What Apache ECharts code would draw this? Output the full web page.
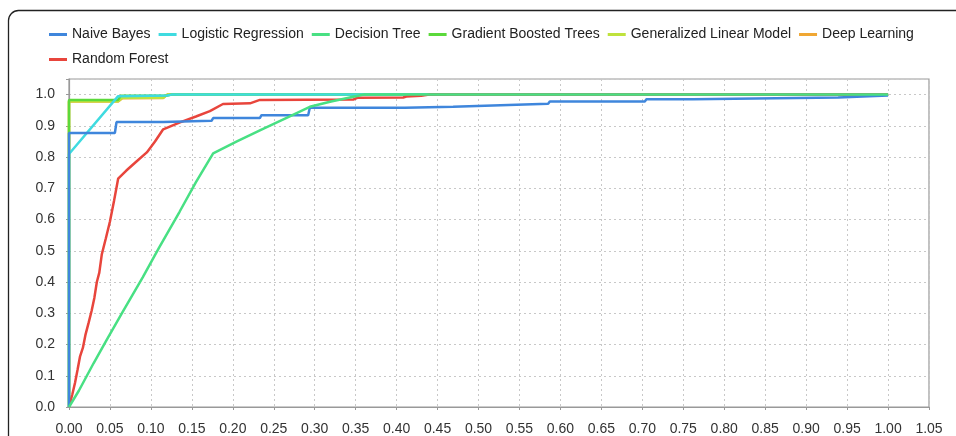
<!DOCTYPE html>
<html>
<head>
<meta charset="utf-8">
<script src="https://cdn.jsdelivr.net/npm/echarts@6/dist/echarts.min.js"></script>
<style>
html,body{margin:0;padding:0;background:#fff;}
#chart{width:956px;height:436px;}
</style>
</head>
<body>
<div id="chart"></div>
<script>
// ---- data (false positive rate, true positive rate) ----
const seriesNames = ['Naive Bayes','Logistic Regression','Decision Tree','Gradient Boosted Trees','Generalized Linear Model','Deep Learning','Random Forest'];
const seriesColors = ['#3f86dc','#3fdbe0','#48e083','#5bd93b','#bfe23c','#f0a733','#e8453c'];

const naiveBayes = [[0,0],[0,0.877],[0.056,0.877],[0.058,0.912],[0.115,0.912],[0.117,0.916],[0.174,0.916],[0.176,0.925],[0.233,0.925],[0.235,0.934],[0.292,0.934],[0.294,0.958],[0.41,0.958],[0.412,0.961],[0.469,0.961],[0.471,0.966],[0.527,0.966],[0.529,0.971],[0.585,0.971],[0.587,0.978],[0.703,0.978],[0.705,0.985],[0.762,0.985],[0.764,0.991],[0.939,0.991],[0.941,0.997],[1,0.997]];
const logisticRegression = [[0,0],[0,0.81],[0.06,0.995],[0.12,0.997],[0.125,1],[1,1]];
const decisionTree = [[0,0],[0.012,0.052],[0.03,0.14],[0.045,0.21],[0.065,0.302],[0.09,0.415],[0.11,0.51],[0.135,0.625],[0.155,0.72],[0.176,0.812],[0.205,0.85],[0.235,0.888],[0.265,0.925],[0.294,0.961],[0.32,0.978],[0.35,0.995],[0.36,1],[1,1]];
const gradientBoosted = [[0,0],[0,0.983],[0.06,0.983],[0.063,0.996],[0.12,0.997],[0.125,1],[1,1]];
const generalizedLinear = [[0,0],[0,0.979],[0.06,0.979],[0.065,0.99],[0.115,0.99],[0.12,1],[1,1]];
const deepLearning = [[0,0],[0,0.978],[0.06,0.978],[0.065,0.988],[0.115,0.989],[0.12,1],[1,1]];
const randomForest = [[0,0],[0.004,0.04],[0.0073,0.077],[0.0105,0.12],[0.0134,0.161],[0.017,0.19],[0.02,0.23],[0.024,0.27],[0.0277,0.309],[0.031,0.35],[0.034,0.40],[0.037,0.43],[0.040,0.488],[0.045,0.54],[0.050,0.594],[0.055,0.66],[0.060,0.731],[0.070,0.757],[0.082,0.785],[0.095,0.815],[0.105,0.85],[0.115,0.889],[0.1355,0.911],[0.155,0.93],[0.172,0.947],[0.188,0.970],[0.221,0.972],[0.233,0.983],[0.347,0.984],[0.352,0.99],[0.408,0.991],[0.412,0.994],[0.43,0.996],[0.44,1],[1,1]];

const xTickInterval = 0.05;
const yTickInterval = 0.1;

const seriesData = [naiveBayes, logisticRegression, decisionTree, gradientBoosted, generalizedLinear, deepLearning, randomForest];
// drawing order (later on top)
const drawOrder = [5,4,3,1,6,0,2];

const FONT = '"Liberation Sans", Arial, sans-serif';
const chart = echarts.init(document.getElementById('chart'));

const series = drawOrder.map(i => ({
  name: seriesNames[i],
  type: 'line',
  data: seriesData[i],
  showSymbol: false,
  symbol: 'none',
  lineStyle: { width: 2.5, color: seriesColors[i] },
  itemStyle: { color: seriesColors[i] },
  emphasis: { disabled: true },
  animation: false
}));

chart.setOption({
  animation: false,
  graphic: [{
    type: 'rect',
    shape: { x: 8.5, y: 10.5, width: 1000, height: 500, r: 10 },
    style: { fill: null, stroke: '#222', lineWidth: 1.3 },
    silent: true
  }],
  legend: {
    data: seriesNames.map(n => ({ name: n })),
    left: 44, top: 21, width: 880,
    itemWidth: 18, itemHeight: 3, itemGap: 8,
    icon: 'rect',
    textStyle: { fontFamily: FONT, fontSize: 14, color: '#222', lineHeight: 17 }
  },
  grid: {
    left: 69, right: 27, top: 79, bottom: 25,
    show: true, borderColor: '#999', borderWidth: 1.2, backgroundColor: '#fff'
  },
  xAxis: {
    type: 'value', min: 0, max: 1.05, interval: xTickInterval,
    offset: 6,
    axisLine: { show: true, lineStyle: { color: '#999', width: 1.2 } },
    axisTick: { show: true, length: 3, lineStyle: { color: '#999' } },
    axisLabel: { fontFamily: FONT, fontSize: 14, color: '#333', margin: 9,
      formatter: v => v.toFixed(2) },
    splitLine: { show: true, lineStyle: { color: '#c8c8c8', type: [2,3], width: 1 } }
  },
  yAxis: {
    type: 'value', min: 0, max: 1.05, interval: yTickInterval,
    offset: 6,
    axisLine: { show: true, lineStyle: { color: '#999', width: 1.2 } },
    axisTick: { show: true, length: 3, lineStyle: { color: '#999' } },
    axisLabel: { fontFamily: FONT, fontSize: 14, color: '#333', margin: 8,
      formatter: v => (v > 1.001 ? '' : v.toFixed(1)) },
    splitLine: { show: true, lineStyle: { color: '#c8c8c8', type: [2,3], width: 1 } }
  },
  series: series
});
</script>
</body>
</html>
